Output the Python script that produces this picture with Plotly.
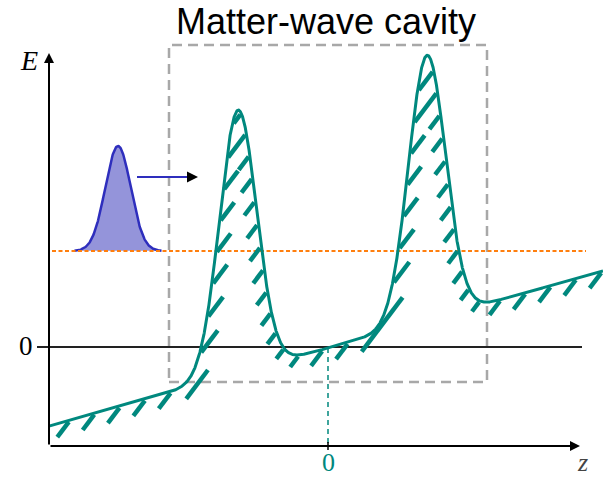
import numpy as np
import plotly.graph_objects as go

# ---- potential landscape: linear tilt plus two Gaussian barriers ----
tilt_slope = 0.28
tilt_offset = -0.01
barrier_centers = [-0.90, 0.99]
barrier_heights = [2.63, 2.65]
barrier_width = 0.185
z_span = [-2.79, 2.75]

# ---- incoming wave packet and its energy level ----
packet_center = -2.10
packet_sigma = 0.127
packet_height = 1.05
packet_half_span = 0.435
energy_level = 0.96
level_span = [-2.76, 2.58]

# ---- frame, axes and annotations ----
cavity_box = [-1.59, -0.35, 1.59, 3.02]      # z0, e0, z1, e1
zero_line_span = [-2.91, 2.54]
axis_origin = [-2.79, -0.99]
axis_tips = [2.52, 2.94]
packet_arrow = [-1.91, -1.40, -1.30, 1.70]   # tail, shaft end, tip, energy
z_ticks = [0.0]
z_tick_labels = ["0"]
e_ticks = [0.0]
e_tick_labels = ["0"]
title_text = "Matter-wave cavity"

TEAL = "#00887e"
GRAY = "#a8a8a8"
ORANGE = "#ff7f0e"
BLUE = "#2e2ebd"
PACKET_FILL = "#9494da"

# hatch geometry (data units; 1 unit = 100 px on both axes)
hatch_depth = 0.13
hatch_gap = 0.012
hatch_spacing = 0.20
hatch_angle = np.deg2rad(53)


def potential(z):
    v = tilt_slope * z + tilt_offset
    for c, h in zip(barrier_centers, barrier_heights):
        v = v + h * np.exp(-(z - c) ** 2 / (2 * barrier_width ** 2))
    return v


# dense curve, resampled uniformly along its arc length
zc = np.linspace(z_span[0], z_span[1], 4000)
ec = potential(zc)
s = np.concatenate([[0.0], np.cumsum(np.hypot(np.diff(zc), np.diff(ec)))])
su = np.linspace(0, s[-1], 6000)
zu = np.interp(su, s, zc)
eu = np.interp(su, s, ec)

# hatch strokes: slanted lines clipped to the band hugging the curve from below
hz, he = [], []
tan_a = np.tan(hatch_angle)
e_samples = np.arange(-1.31, 3.47, 0.003)
c_min = z_span[0] - 3.5 / tan_a - hatch_spacing
c_max = z_span[1] + 1.4 / tan_a + hatch_spacing
for c in np.arange(c_min, c_max, hatch_spacing):
    zs = c + e_samples / tan_a
    ok = (zs >= z_span[0]) & (zs <= z_span[1])
    ok &= e_samples < potential(np.clip(zs, z_span[0], z_span[1]))
    idx = np.nonzero(ok)[0]
    if idx.size == 0:
        continue
    pz, pe = zs[idx], e_samples[idx]
    near = (zu > pz.min() - hatch_depth) & (zu < pz.max() + hatch_depth)
    qz, qe = zu[near], eu[near]
    d = np.sqrt(((pz[:, None] - qz[None, :]) ** 2 + (pe[:, None] - qe[None, :]) ** 2).min(axis=1))
    inside = np.zeros_like(ok)
    inside[idx] = (d < hatch_depth) & (d > hatch_gap)
    edges = np.diff(np.concatenate([[0], inside.astype(int), [0]]))
    starts = np.nonzero(edges == 1)[0]
    ends = np.nonzero(edges == -1)[0] - 1
    for a, b in zip(starts, ends):
        if b - a < 3:
            continue
        hz += [zs[a], zs[b], None]
        he += [e_samples[a], e_samples[b], None]

fig = go.Figure()

# wave packet
zp = np.linspace(packet_center - packet_half_span, packet_center + packet_half_span, 200)
ep = energy_level + packet_height * np.exp(-(zp - packet_center) ** 2 / (2 * packet_sigma ** 2))
fig.add_trace(go.Scatter(x=zp, y=ep, mode="lines", fill="toself", fillcolor=PACKET_FILL,
                         line=dict(color=BLUE, width=2.5), hoverinfo="skip"))

# energy level
fig.add_trace(go.Scatter(x=level_span, y=[energy_level, energy_level], mode="lines",
                         line=dict(color=ORANGE, width=2, dash="4px,2.5px"), hoverinfo="skip"))

# hatching and potential curve
fig.add_trace(go.Scatter(x=hz, y=he, mode="lines", line=dict(color=TEAL, width=4.5),
                         hoverinfo="skip"))
fig.add_trace(go.Scatter(x=zc, y=ec, mode="lines", line=dict(color=TEAL, width=3),
                         hoverinfo="skip"))

shapes = [
    dict(type="rect", x0=cavity_box[0], y0=cavity_box[1], x1=cavity_box[2], y1=cavity_box[3],
         line=dict(color=GRAY, width=2.5, dash="10px,6px"), layer="below"),
    dict(type="line", x0=zero_line_span[0], y0=0, x1=zero_line_span[1], y1=0,
         line=dict(color="#222222", width=2), layer="below"),
    dict(type="line", x0=0, y0=float(potential(0.0)), x1=0, y1=axis_origin[1],
         line=dict(color=TEAL, width=1.5, dash="5px,4px"), layer="below"),
    dict(type="line", x0=packet_arrow[0], y0=packet_arrow[3], x1=packet_arrow[1], y1=packet_arrow[3],
         line=dict(color=BLUE, width=2)),
]
for t in z_ticks:
    shapes.append(dict(type="line", x0=t, y0=axis_origin[1] + 0.04, x1=t, y1=axis_origin[1] - 0.04,
                       line=dict(color="black", width=1.5)))

annotations = [
    # axes with arrowheads
    dict(x=axis_tips[0], y=axis_origin[1], ax=axis_origin[0], ay=axis_origin[1],
         xref="x", yref="y", axref="x", ayref="y", text="", showarrow=True,
         arrowhead=2, arrowsize=1.0, arrowwidth=2, arrowcolor="black"),
    dict(x=axis_origin[0], y=axis_tips[1], ax=axis_origin[0], ay=axis_origin[1],
         xref="x", yref="y", axref="x", ayref="y", text="", showarrow=True,
         arrowhead=2, arrowsize=1.0, arrowwidth=2, arrowcolor="black"),
    # wave packet direction arrowhead
    dict(x=packet_arrow[2], y=packet_arrow[3], ax=packet_arrow[1] - 0.02, ay=packet_arrow[3],
         xref="x", yref="y", axref="x", ayref="y", text="", showarrow=True,
         arrowhead=2, arrowsize=1.1, arrowwidth=2, arrowcolor="black"),
    # labels
    dict(x=-2.99, y=2.87, text="<i>E</i>", showarrow=False, borderpad=0,
         font=dict(family="Liberation Serif", size=28, color="black")),
    dict(x=2.54, y=-1.155, text="<i>z</i>", showarrow=False, borderpad=0,
         font=dict(family="Liberation Serif", size=26, color="#444444")),
    dict(x=-0.02, y=3.26, text=title_text, showarrow=False, borderpad=0,
         font=dict(family="Liberation Sans, Arial", size=36, color="black")),
]
for t, lab in zip(z_ticks, z_tick_labels):
    annotations.append(dict(x=t, y=-1.155, text=lab, showarrow=False, borderpad=0,
                            font=dict(family="Liberation Serif", size=26, color=TEAL)))
for t, lab in zip(e_ticks, e_tick_labels):
    annotations.append(dict(x=-3.025, y=t + 0.01, text=lab, showarrow=False, borderpad=0,
                            font=dict(family="Liberation Serif", size=27, color="black")))

fig.update_layout(
    width=603, height=478,
    margin=dict(l=0, r=0, t=0, b=0),
    paper_bgcolor="white", plot_bgcolor="white",
    showlegend=False,
    xaxis=dict(range=[-3.28, 2.75], visible=False, fixedrange=True),
    yaxis=dict(range=[-1.31, 3.47], visible=False, fixedrange=True),
    shapes=shapes,
    annotations=annotations,
)

fig.write_html("out.html")
